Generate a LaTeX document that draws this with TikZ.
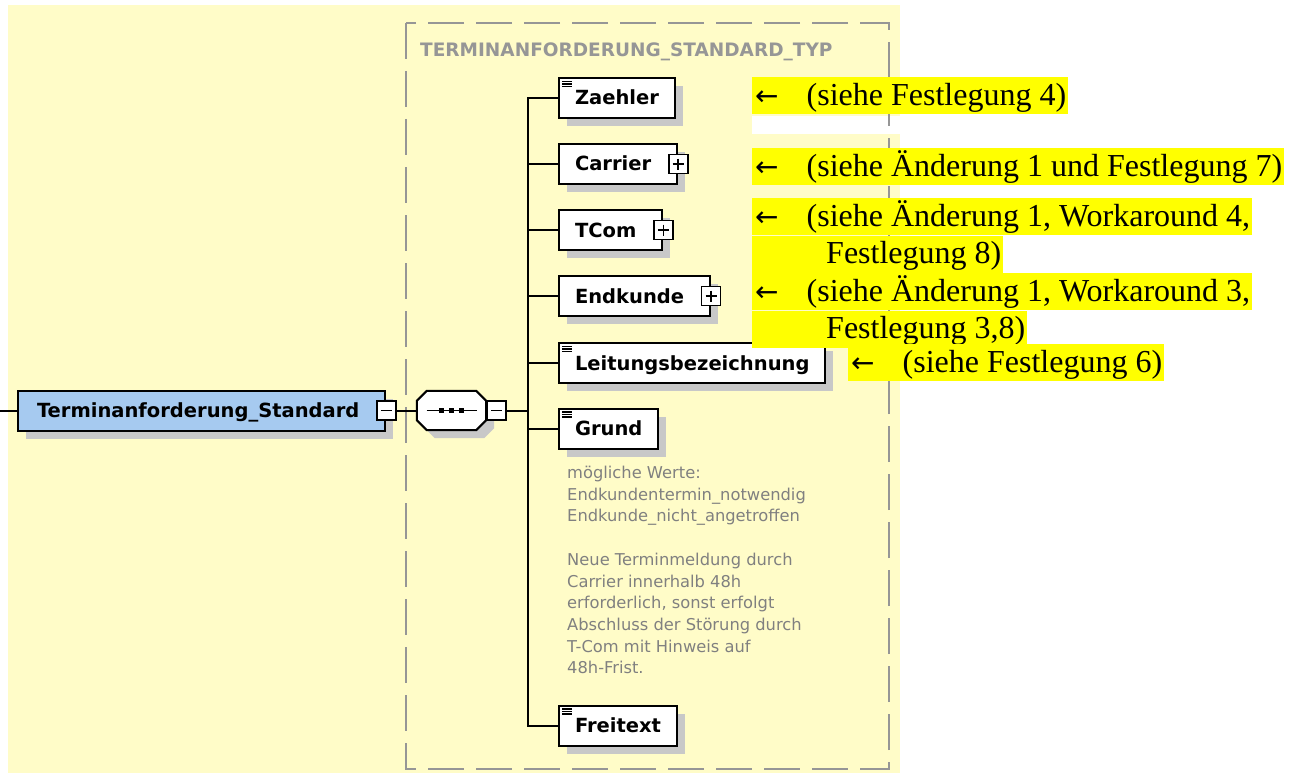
\documentclass[tikz,border=0pt]{standalone}
\usepackage{fontspec}
\usetikzlibrary{positioning, calc, shadows}

\newfontfamily\xsdfont{DejaVu Sans}
\newfontfamily\docfont{Liberation Serif}

\definecolor{canvas}{RGB}{255,252,200}
\definecolor{rootblue}{RGB}{166,202,240}
\definecolor{shadowgrey}{RGB}{200,200,200}
\definecolor{typegrey}{RGB}{150,150,150}
\definecolor{notegrey}{RGB}{128,128,128}
\definecolor{marker}{RGB}{255,255,0}

%% arrow in front of every remark
\newcommand\remarrow{\hspace*{3pt}{\xsdfont\fontsize{28}{28}\selectfont ←}\hspace*{28pt}}

\begin{document}
\begin{tikzpicture}[x=1pt, y=-1pt,
  %% element boxes
  elem/.style={
    rectangle, draw=black, line width=2pt, fill=white,
    minimum height=40pt, inner xsep=16pt, inner ysep=0pt,
    text height=14pt, text depth=0pt, anchor=west,
    font=\xsdfont\bfseries\fontsize{19.5}{20}\selectfont,
    drop shadow={shadow xshift=8pt, shadow yshift=-8pt, opacity=1, fill=shadowgrey}
  },
  %% root element (blue)
  rootelem/.style={elem, fill=rootblue, inner xsep=19pt,
    execute at end node={\hspace*{7pt}}},
  %% simple content: small list mark top left
  simple/.style={path picture={
    \foreach \k in {0,1,2}
      \draw[line width=1.2pt]
        ([xshift=3pt, yshift={-3.5pt-2.5pt*\k}]path picture bounding box.north west) -- ++(10,0);
  }},
  %% complex content: room for the plus box
  complex/.style={execute at end node={\hspace*{10pt}}},
  %% expand / collapse boxes
  toggle/.style={rectangle, draw=black, line width=1.6pt, fill=white,
    minimum size=19pt, inner sep=0pt},
  minus/.style={toggle, path picture={
    \draw[line width=1.5pt] ([xshift=4pt]path picture bounding box.west)
      -- ([xshift=-4pt]path picture bounding box.east);
  }},
  plus/.style={toggle, path picture={
    \draw[line width=1.5pt] ([xshift=4pt]path picture bounding box.west)
      -- ([xshift=-4pt]path picture bounding box.east)
      ([yshift=-4pt]path picture bounding box.north)
      -- ([yshift=4pt]path picture bounding box.south);
  }},
  %% sequence compositor (outline drawn separately)
  seqbox/.style={rectangle, inner sep=0pt, minimum width=69pt, minimum height=39pt},
  seqline/.style={draw=black, line width=2pt, fill=white,
    drop shadow={shadow xshift=8pt, shadow yshift=-8pt, opacity=1, fill=shadowgrey}},
  %% connectors
  conn/.style={line width=2pt},
  %% type frame
  typebox/.style={draw=typegrey, line width=2pt, dash pattern=on 36pt off 12pt},
  typetitle/.style={anchor=base west, inner sep=0pt, text=typegrey,
    font=\xsdfont\bfseries\fontsize{18.5}{20}\selectfont},
  %% documentation text
  note/.style={anchor=north west, align=left, inner sep=0pt, text=notegrey,
    font=\xsdfont\fontsize{16.3}{21.7}\selectfont},
  %% highlighted remarks
  remark/.style={anchor=north west, fill=marker, inner sep=0pt,
    text height=28pt, text depth=9pt,
    font=\docfont\fontsize{32}{37}\selectfont}
]

\useasboundingbox (0,0) rectangle (1298,773);

%% ================================================================
%% BACKGROUND AND TYPE FRAME
%% ================================================================
\fill[canvas] (8,5) rectangle (900,773);
\fill[white] (752,116) rectangle (900,134);

\draw[typebox] (406,23) rectangle (889,769);
\node[typetitle] (typename) at (420,57) {TERMINANFORDERUNG\_STANDARD\_TYP};

%% ================================================================
%% ROOT AND SEQUENCE
%% ================================================================
\coordinate (inlet) at (0,410.5);
\coordinate (bus) at (528,0);

\node[rootelem] (root) at (17,410.5) {Terminanforderung\_Standard};
\node[minus] (rootminus) at (root.east) {};

\node[seqbox] (seq) at (451.5,410.5) {};
\draw[seqline]
  ([xshift=10pt]seq.north west) -- ([xshift=-10pt]seq.north east)
  -- ([yshift=-10pt]seq.north east) -- ([yshift=10pt]seq.south east)
  -- ([xshift=-10pt]seq.south east) -- ([xshift=10pt]seq.south west)
  -- ([yshift=10pt]seq.south west) -- ([yshift=-10pt]seq.north west) -- cycle;
\node[minus, anchor=west] (seqminus) at (seq.east) {};

\draw[line width=1.6pt] ([xshift=-25pt]seq.center) -- ([xshift=25pt]seq.center);
\foreach \d in {-10,0,10}
  \fill ([xshift=\d pt]seq.center) +(-2.7,-2.7) rectangle +(2.7,2.7);

\draw[conn] (inlet) -- (root.west);
\draw[conn] (rootminus.east) -- (seq.west);
\draw[conn] (seqminus.east) -- (seqminus.east -| bus);

%% ================================================================
%% CHILD ELEMENTS
%% ================================================================
\node[elem, simple]  (zaehler)  at (558,98)    {Zaehler};
\node[elem, complex] (carrier)  at (558,164)   {Carrier};
\node[elem, complex] (tcom)     at (558,230)   {TCom};
\node[elem, complex] (endkunde) at (558,296)   {Endkunde};
\node[elem, simple]  (leitung)  at (558,363)   {Leitungsbezeichnung};
\node[elem, simple]  (grund)    at (558,428.5) {Grund};
\node[elem, simple]  (freitext) at (558,725.5) {Freitext};

\foreach \n in {carrier,tcom,endkunde}
  \node[plus] (\n-plus) at (\n.east) {};

\draw[conn] (zaehler.west) -- (zaehler.west -| bus) -- (freitext.west -| bus) -- (freitext.west);
\foreach \n in {carrier,tcom,endkunde,leitung,grund}
  \draw[conn] (\n.west) -- (\n.west -| bus);

%% annotation of Grund
\node[note] (grundnote) at (567,466) {%
  mögliche Werte:\\
  Endkundentermin\_notwendig\\
  Endkunde\_nicht\_angetroffen\\[21.7pt]
  Neue Terminmeldung durch\\
  Carrier innerhalb 48h\\
  erforderlich, sonst erfolgt\\
  Abschluss der Störung durch\\
  T-Com mit Hinweis auf\\
  48h-Frist.};

%% ================================================================
%% REMARKS
%% ================================================================
\node[remark] (rem1)  at (752,77)  {\remarrow(siehe Festlegung 4)\hspace*{2pt}};
\node[remark] (rem2)  at (752,148) {\remarrow(siehe Änderung 1 und Festlegung 7)\hspace*{2pt}};
\node[remark] (rem3)  at (752,198) {\remarrow(siehe Änderung 1, Workaround 4,\hspace*{2pt}};
\node[remark] (rem3b) at (rem3.south west) {\hspace*{74pt}Festlegung 8)\hspace*{2pt}};
\node[remark] (rem4)  at (752,273) {\remarrow(siehe Änderung 1, Workaround 3,\hspace*{2pt}};
\node[remark] (rem4b) at (rem4.south west) {\hspace*{74pt}Festlegung 3,8)\hspace*{2pt}};
\node[remark] (rem5)  at (848,344) {\remarrow(siehe Festlegung 6)\hspace*{2pt}};

\end{tikzpicture}
\end{document}
